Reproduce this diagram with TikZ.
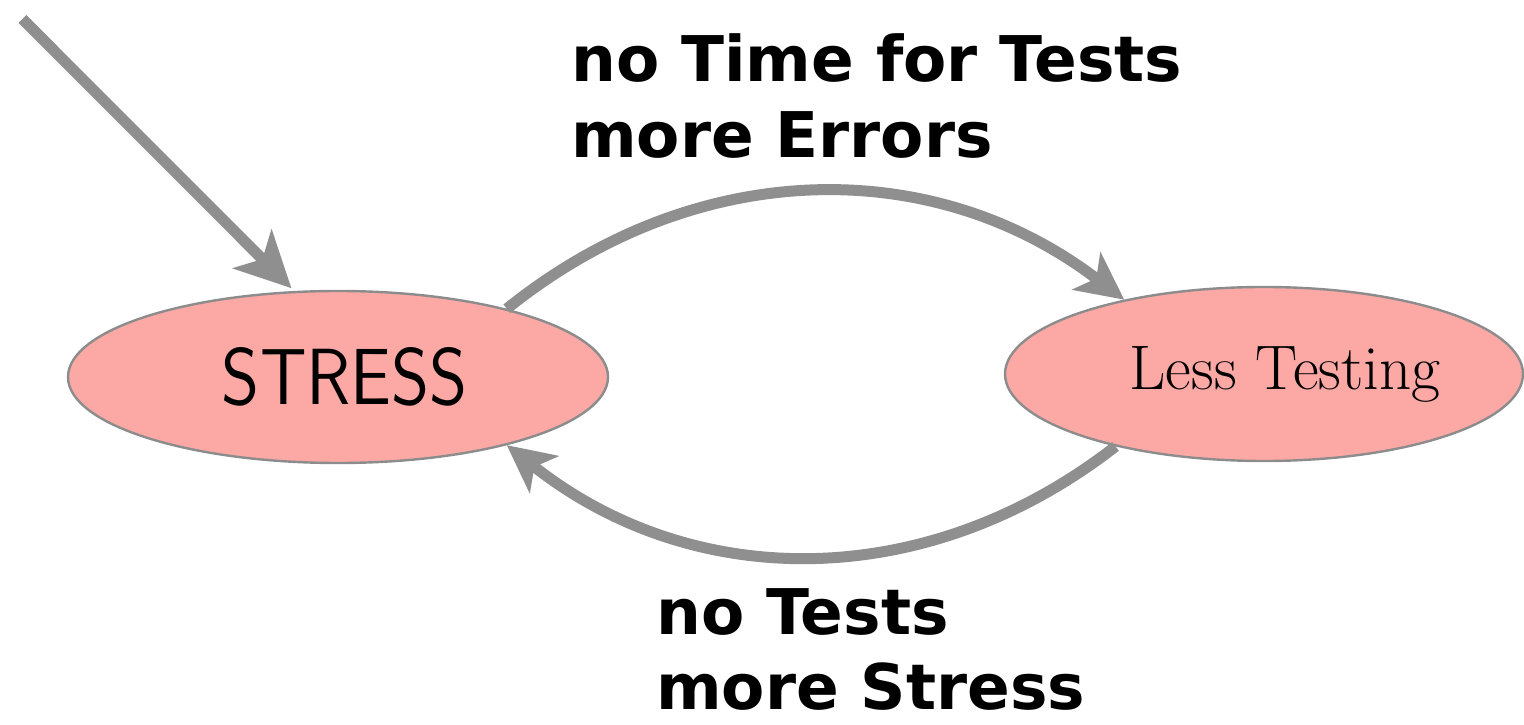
\documentclass[tikz,border=0pt]{standalone}
\usepackage{fontspec}
\usepackage{graphicx}
\usetikzlibrary{arrows.meta,shapes.geometric}
\newfontfamily\labelfont{DejaVu Sans}[BoldFont={DejaVu Sans Bold}]
\definecolor{nodefill}{RGB}{252,169,166}
\definecolor{edgegray}{RGB}{143,143,143}
\definecolor{bordergray}{RGB}{140,140,140}
\tikzset{
  statenode/.style={ellipse, draw=bordergray, line width=2.4pt, fill=nodefill, inner sep=0pt},
  flowarrow/.style={draw=edgegray, line width=11pt,
    -{Stealth[length=48pt,width=48pt,inset=13pt,line width=0pt]}},
  bigarrow/.style={draw=edgegray, line width=11pt,
    -{Stealth[length=56pt,width=56pt,inset=15pt,line width=0pt]}},
  edgetext/.style={anchor=base west, inner sep=0pt,
    font=\labelfont\bfseries\fontsize{63}{76}\selectfont}
}
\begin{document}
\begin{tikzpicture}[x=1pt,y=1pt]
\useasboundingbox (0,0) rectangle (1524,724);
% nodes
\node[statenode, minimum width=540pt, minimum height=172pt] (S) at (338,347)
  {\hspace*{14pt}\resizebox{246pt}{57pt}{\sffamily STRESS}};
\node[statenode, minimum width=518pt, minimum height=174pt] (L) at (1264,350)
  {\hspace*{42pt}\fontsize{63}{70}\selectfont Less Testing};
% labels
\node[edgetext] (t1) at (571,642) {no Time for Tests};
\node[edgetext] (t2) at (571,566) {more Errors};
\node[edgetext] (b1) at (656,90) {no Tests};
\node[edgetext] (b2) at (656,15) {more Stress};
% connectors
\coordinate (start) at (22.5,705);
\draw[bigarrow, shorten >=4pt] (start) -- (S.117);
\draw[flowarrow] (S.22) to[bend left=38] (L.152);
\draw[flowarrow] (L.206) to[bend left=38] (S.-22);
\end{tikzpicture}
\end{document}
